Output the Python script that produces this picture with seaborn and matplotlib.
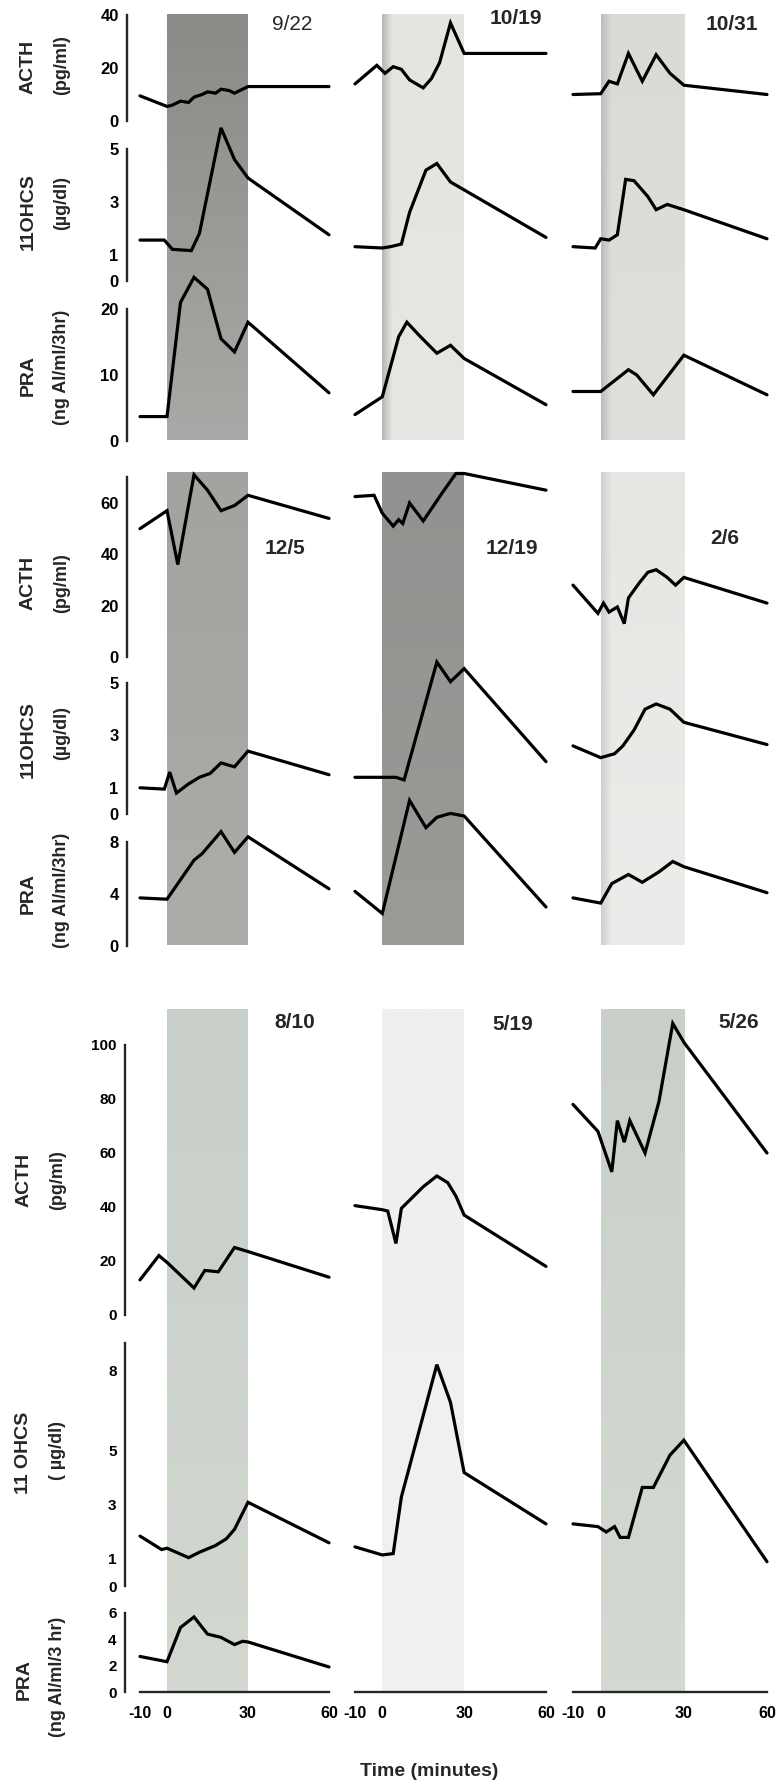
import matplotlib
matplotlib.use('Agg')
import matplotlib.pyplot as plt
import matplotlib.colors as mcolors
import seaborn as sns
import pandas as pd
import numpy as np
from matplotlib.ticker import FixedLocator

sns.set_style('white')
plt.rcParams['font.family'] = ['Liberation Sans', 'DejaVu Sans']
plt.rcParams['font.weight'] = 'bold'

# ---------------- data (time in minutes, values) ----------------
# Block 1
acth_922_t = [-10, 0, 2, 5, 8, 10, 13, 15, 18, 20, 23, 25, 28, 30, 60]
acth_922_v = [9.5, 5.5, 6.0, 7.5, 7.0, 9.0, 10.0, 11.0, 10.5, 12.0, 11.5, 10.5, 12.0, 13.0, 13.0]
ohcs_922_t = [-10, -1, 2, 9, 12, 20, 25, 30, 60]
ohcs_922_v = [1.55, 1.55, 1.2, 1.15, 1.8, 5.8, 4.6, 3.9, 1.75]
pra_922_t = [-10, 0, 5, 10, 15, 20, 25, 30, 60]
pra_922_v = [3.7, 3.7, 21, 24.8, 23, 15.5, 13.5, 18, 7.3]

acth_1019_t = [-10, -2, 1, 4, 7, 10, 15, 18, 21, 25, 30, 60]
acth_1019_v = [14, 21, 18, 20.5, 19.5, 15.5, 12.5, 16, 22, 37, 25.5, 25.5]
ohcs_1019_t = [-10, 0, 3, 7, 10, 16, 20, 25, 30, 60]
ohcs_1019_v = [1.3, 1.25, 1.3, 1.4, 2.6, 4.2, 4.45, 3.75, 3.45, 1.65]
pra_1019_t = [-10, 0, 6, 9, 14, 20, 25, 30, 60]
pra_1019_v = [4, 6.7, 15.8, 18, 15.8, 13.3, 14.5, 12.5, 5.5]

acth_1031_t = [-10, 0, 3, 6, 10, 15, 20, 25, 30, 60]
acth_1031_v = [10, 10.3, 15, 14, 25.5, 15, 25, 18, 13.5, 10]
ohcs_1031_t = [-10, -2, 0, 3, 6, 9, 12, 17, 20, 24, 30, 60]
ohcs_1031_v = [1.3, 1.25, 1.6, 1.55, 1.75, 3.85, 3.8, 3.2, 2.7, 2.9, 2.7, 1.6]
pra_1031_t = [-10, 0, 10, 13, 19, 30, 60]
pra_1031_v = [7.5, 7.5, 10.8, 10, 7, 13, 7]

# Block 2
acth_125_t = [-10, 0, 4, 10, 15, 20, 25, 30, 60]
acth_125_v = [50, 57, 36, 71, 65, 57, 59, 63, 54]
ohcs_125_t = [-10, -1, 1, 3.5, 8, 12, 16, 20, 25, 30, 60]
ohcs_125_v = [1.0, 0.95, 1.6, 0.8, 1.15, 1.4, 1.55, 1.95, 1.8, 2.4, 1.5]
pra_125_t = [-10, 0, 5, 10, 13, 20, 25, 30, 60]
pra_125_v = [3.7, 3.6, 5.1, 6.6, 7.1, 8.8, 7.2, 8.4, 4.4]

acth_1219_t = [-10, -3, 0, 4, 6, 7.5, 10, 15, 22, 27, 30, 60]
acth_1219_v = [62.5, 63, 56, 51, 53.5, 52, 60, 53, 64, 71.5, 71.5, 65]
ohcs_1219_t = [-10, 0, 5, 8, 20, 25, 30, 60]
ohcs_1219_v = [1.4, 1.4, 1.4, 1.3, 5.8, 5.05, 5.55, 2.0]
pra_1219_t = [-10, 0, 10, 16, 20, 25, 30, 60]
pra_1219_v = [4.2, 2.5, 11.2, 9.1, 9.9, 10.2, 10, 3.0]

acth_26_t = [-10, -1, 1, 3, 6, 8.5, 10, 14, 17, 20, 24, 27, 30, 60]
acth_26_v = [28, 17, 21, 17.5, 19.5, 13, 23, 29, 33, 34, 31, 28, 31, 21]
ohcs_26_t = [-10, 0, 5, 8, 12, 16, 20, 25, 30, 60]
ohcs_26_v = [2.6, 2.15, 2.3, 2.6, 3.2, 4.0, 4.2, 4.0, 3.5, 2.65]
pra_26_t = [-10, 0, 4, 10, 15, 21, 26, 30, 60]
pra_26_v = [3.7, 3.3, 4.8, 5.5, 4.9, 5.7, 6.5, 6.1, 4.1]

# Block 3
acth_810_t = [-10, -3, 0, 10, 14, 19, 25, 30, 60]
acth_810_v = [13, 22, 19.5, 10, 16.5, 16, 25, 23.5, 14]
ohcs_810_t = [-10, -2, 0, 8, 12, 18, 22, 25, 30, 60]
ohcs_810_v = [1.85, 1.35, 1.4, 1.05, 1.25, 1.5, 1.75, 2.1, 3.1, 1.6]
pra_810_t = [-10, 0, 5, 10, 15, 20, 25, 28, 30, 60]
pra_810_v = [2.7, 2.3, 4.9, 5.7, 4.4, 4.15, 3.6, 3.85, 3.8, 1.9]

acth_519_t = [-10, 0, 2, 5, 7, 10, 15, 20, 24, 27, 30, 60]
acth_519_v = [40.5, 39, 38.5, 26.5, 39.5, 42.5, 47.5, 51.5, 49, 44, 37, 18]
ohcs_519_t = [-10, 0, 4, 7, 20, 25, 30, 60]
ohcs_519_v = [1.45, 1.15, 1.2, 3.3, 8.2, 6.8, 4.2, 2.3]

acth_526_t = [-10, -1, 4, 6, 8.5, 10.5, 16, 21, 26, 30, 60]
acth_526_v = [78, 68, 53, 72, 64, 72, 60, 79, 108, 101, 60]
ohcs_526_t = [-10, -1, 2, 5, 7, 10, 15, 19, 25, 30, 60]
ohcs_526_v = [2.3, 2.2, 2.0, 2.2, 1.8, 1.8, 3.65, 3.65, 4.85, 5.4, 0.9]

dates = [["9/22", "10/19", "10/31"], ["12/5", "12/19", "2/6"], ["8/10", "5/19", "5/26"]]
xtick_vals = [-10, 0, 30, 60]

series = {
    (0, 0, 0): (acth_922_t, acth_922_v), (0, 0, 1): (ohcs_922_t, ohcs_922_v), (0, 0, 2): (pra_922_t, pra_922_v),
    (0, 1, 0): (acth_1019_t, acth_1019_v), (0, 1, 1): (ohcs_1019_t, ohcs_1019_v), (0, 1, 2): (pra_1019_t, pra_1019_v),
    (0, 2, 0): (acth_1031_t, acth_1031_v), (0, 2, 1): (ohcs_1031_t, ohcs_1031_v), (0, 2, 2): (pra_1031_t, pra_1031_v),
    (1, 0, 0): (acth_125_t, acth_125_v), (1, 0, 1): (ohcs_125_t, ohcs_125_v), (1, 0, 2): (pra_125_t, pra_125_v),
    (1, 1, 0): (acth_1219_t, acth_1219_v), (1, 1, 1): (ohcs_1219_t, ohcs_1219_v), (1, 1, 2): (pra_1219_t, pra_1219_v),
    (1, 2, 0): (acth_26_t, acth_26_v), (1, 2, 1): (ohcs_26_t, ohcs_26_v), (1, 2, 2): (pra_26_t, pra_26_v),
    (2, 0, 0): (acth_810_t, acth_810_v), (2, 0, 1): (ohcs_810_t, ohcs_810_v), (2, 0, 2): (pra_810_t, pra_810_v),
    (2, 1, 0): (acth_519_t, acth_519_v), (2, 1, 1): (ohcs_519_t, ohcs_519_v),
    (2, 2, 0): (acth_526_t, acth_526_v), (2, 2, 1): (ohcs_526_t, ohcs_526_v),
}

# ---------------- layout (pixels) ----------------
W, H = 780, 1784
fig = plt.figure(figsize=(W / 100, H / 100), dpi=100)
fig.patch.set_facecolor('white')


def px_axes(left, top, width, height, z=1):
    return fig.add_axes([left / W, 1 - (top + height) / H, width / W, height / H], zorder=z)


cols = [(140, 189), (355, 191), (573, 194)]

# shading: (top colour, bottom colour, left-edge colour)
blocks = [
    dict(shade=(14, 440),
         colors=[('#8a8a86', '#aaa9a7', None), ('#e4e4e1', '#e6e6e3', '#b8b8b4'),
                 ('#dadad6', '#dfdfdb', '#bdbdb9')],
         rows=[(10, 135, (0, 121), (40, 15), 40, [0, 20, 40], [10, 30]),
               (135, 292, (0, 281), (5, 149), 5, [0, 1, 3, 5], [2, 4]),
               (292, 450, (0, 441), (20, 309), 20, [0, 10, 20], [])],
         ylabels=[("ACTH", 67, "(pg/ml)", 65), ("11OHCS", 212, "(µg/dl)", 203),
                  ("PRA", 375, "(ng AI/ml/3hr)", 367)],
         lab_x=(28, 62), ticksize=12, outward=13),
    dict(shade=(472, 945),
         colors=[('#a3a39f', '#acaca8', None), ('#929290', '#9a9a97', None),
                 ('#e6e6e3', '#ececea', '#cfcfcb')],
         rows=[(465, 670, (0, 657), (60, 503), 70, [0, 20, 40, 60], [10, 30, 50, 70]),
               (670, 825, (0, 814), (5, 683), 5, [0, 1, 3, 5], [2, 4]),
               (825, 955, (0, 946), (8, 842), 8, [0, 4, 8], [2, 6])],
         ylabels=[("ACTH", 583, "(pg/ml)", 583), ("11OHCS", 740, "(µg/dl)", 733),
                  ("PRA", 893, "(ng AI/ml/3hr)", 890)],
         lab_x=(28, 62), ticksize=12, outward=13),
    dict(shade=(1009, 1692),
         colors=[('#c8cfc9', '#d2d8d0', None), ('#eef0ee', '#f1f2f0', None),
                 ('#c9d0c9', '#d4dad2', None)],
         rows=[(1000, 1330, (0, 1315), (100, 1045), 100, [0, 20, 40, 60, 80, 100],
                [10, 30, 50, 70, 90]),
               (1330, 1600, (0, 1586), (8, 1370), 9, [0, 1, 3, 5, 8], [2, 4, 6, 7]),
               (1600, 1692, (0, 1692), (6, 1613), 6, [0, 2, 4, 6], [])],
         ylabels=[("ACTH", 1180, "(pg/ml)", 1180), ("11 OHCS", 1453, "( µg/dl)", 1450),
                  ("PRA", 1680, "(ng AI/ml/3 hr)", 1677)],
         lab_x=(24, 58), ticksize=11, outward=15),
]

title_pos = [[(292, 24), (516, 18), (732, 24)],
             [(285, 548), (512, 548), (725, 539)],
             [(295, 1023), (513, 1025), (739, 1023)]]


def shade_image(ctop, cbot, cedge, nrow=60, ncol=60):
    top = np.array(mcolors.to_rgb(ctop))
    bot = np.array(mcolors.to_rgb(cbot))
    f = np.linspace(0, 1, nrow)[:, None, None]
    img = top[None, None, :] * (1 - f) + bot[None, None, :] * f
    img = np.repeat(img, ncol, axis=1)
    if cedge is not None:
        e = np.array(mcolors.to_rgb(cedge))
        g = np.clip(1 - np.linspace(0, 1, ncol) / 0.12, 0, 1)[None, :, None]
        img = img * (1 - g) + e[None, None, :] * g
    return img


LW = 2.3
for b, blk in enumerate(blocks):
    st, sb = blk['shade']
    for c, (cl, cw) in enumerate(cols):
        bg = px_axes(cl, st, cw, sb - st, z=0)
        ctop, cbot, cedge = blk['colors'][c]
        bg.imshow(shade_image(ctop, cbot, cedge), extent=[0, 30, 0, 1], aspect='auto',
                  interpolation='bilinear', origin='upper')
        bg.set_xlim(-10, 60)
        bg.set_ylim(0, 1)
        bg.axis('off')
        for r, (top, bot, (v1, p1), (v2, p2), stop, major, minor) in enumerate(blk['rows']):
            ax = px_axes(cl, top, cw, bot - top, z=2)
            ax.set_facecolor('none')
            ppu = (p1 - p2) / (v2 - v1)
            ax.set_ylim(v1 + (p1 - bot) / ppu, v1 + (p1 - top) / ppu)
            ax.set_xlim(-10, 60)
            key = (b, c, r)
            if key in series:
                t, v = series[key]
                df = pd.DataFrame({'t': t, 'v': v})
                sns.lineplot(data=df, x='t', y='v', ax=ax, color='black', lw=LW,
                             sort=False, estimator=None, legend=False,
                             solid_joinstyle='miter')
                for ln in ax.lines:
                    ln.set_clip_on(False)
            ax.set_xlabel('')
            ax.set_ylabel('')
            for s in ['top', 'right', 'left', 'bottom']:
                ax.spines[s].set_visible(False)
            if c == 0:
                sp = ax.spines['left']
                sp.set_visible(True)
                sp.set_bounds(0, stop)
                sp.set_position(('outward', blk['outward'] * 0.72))
                sp.set_linewidth(1.7)
                ax.yaxis.set_major_locator(FixedLocator(major))
                ax.yaxis.set_minor_locator(FixedLocator(minor))
                ax.set_yticklabels([str(m) for m in major])
                ax.tick_params(axis='y', which='both', direction='in', length=4.5,
                               width=1.6, labelsize=blk['ticksize'], pad=6, colors='black')
            else:
                ax.set_yticks([])
            if b == 2 and r == 2:
                sp = ax.spines['bottom']
                sp.set_visible(True)
                sp.set_bounds(-10, 60)
                sp.set_linewidth(1.7)
                ax.set_xticks(xtick_vals)
                ax.set_xticklabels([str(x) for x in xtick_vals])
                ax.tick_params(axis='x', direction='in', length=5, width=1.6,
                               labelsize=11.5, pad=10, colors='black')
            else:
                ax.set_xticks([])
        tx, ty = title_pos[b][c]
        fig.text(tx / W, 1 - ty / H, dates[b][c], ha='center', va='center',
                 fontsize=15, fontweight='bold' if (b, c) != (0, 0) else 'normal')
    lx1, lx2 = blk['lab_x']
    for name, ny, unit, uy in blk['ylabels']:
        fig.text(lx1 / W, 1 - ny / H, name, rotation=90, ha='center', va='center',
                 fontsize=14, fontweight='bold')
        fig.text(lx2 / W, 1 - uy / H, unit, rotation=90, ha='center', va='center',
                 fontsize=13, fontweight='bold')

fig.text(429 / W, 1 - 1772 / H, "Time (minutes)", ha='center', va='center',
         fontsize=14, fontweight='bold')

fig.savefig('out.png', dpi=100, facecolor='white')
